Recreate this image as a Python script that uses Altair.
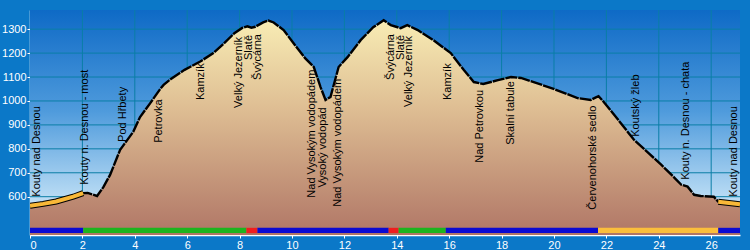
import altair as alt
import pandas as pd

# ---- data ----
profile_x = [0.0, 0.5, 1.0, 1.65, 2.03, 2.2, 2.56, 2.8, 3.06, 3.44, 3.94, 4.2, 4.59, 4.97, 5.1, 5.35,
             5.9, 6.5, 7.0, 7.4, 7.8, 8.1, 8.3, 8.45, 8.6, 8.9, 9.1, 9.3, 9.68, 10.06, 10.5, 10.83,
             11.09, 11.28, 11.47, 11.78, 12.12, 12.62, 13.1, 13.5, 13.77, 14.15, 14.4, 14.8, 15.4,
             16.06, 16.56, 16.94, 17.3, 17.86, 18.36, 18.74, 19.9, 20.9, 21.4, 21.6, 21.7, 21.9,
             22.45, 23.06, 23.6, 24.1, 24.6, 24.86, 25.1, 25.35, 25.6, 26.1, 26.27, 26.6, 27.1]
profile_elev = [562, 570, 580, 600, 615, 616, 603, 640, 692, 796, 871, 933, 991, 1050, 1067, 1090,
                1130, 1165, 1200, 1240, 1283, 1305, 1312, 1306, 1310, 1328, 1336, 1328, 1296, 1241, 1179, 1142,
                1058, 1004, 1017, 1142, 1183, 1254, 1308, 1337, 1317, 1304, 1317, 1296, 1254,
                1200, 1129, 1079, 1071, 1087, 1100, 1096, 1054, 1012, 1004, 1015, 1020, 996,
                921, 837, 783, 733, 679, 650, 642, 608, 603, 600, 579, 575, 568]

road_seg = [1, 1, 1, 1, 1, 2, 2, 2]
road_x = [0.0, 0.5, 1.0, 1.65, 2.03, 26.27, 26.6, 27.1]
road_elev = [562, 570, 580, 600, 615, 579, 575, 568]

bar_start = [0.0, 2.03, 8.26, 8.68, 13.69, 14.07, 15.87, 21.68, 26.27]
bar_end = [2.03, 8.26, 8.68, 13.69, 14.07, 15.87, 21.68, 26.27, 27.1]
bar_type = ["a", "b", "c", "a2", "c2", "b2", "a3", "d", "a4"]
bar_colors = ["#0a0ad2", "#1eb41e", "#f01e1e", "#0a0ad2", "#f01e1e", "#1eb41e", "#0a0ad2", "#fbbe3c", "#0a0ad2"]

labels = ["Kouty nad Desnou", "Kouty n. Desnou - most", "Pod Hřbety", "Petrovka", "Kamzík",
          "Velký Jezerník", "Slatě", "Švýcárna", "Nad Vysokým vodopádem", "Vysoký vodopád",
          "Nad Vysokým vodopádem", "Švýcárna", "Slatě", "Velký Jezerník", "Kamzík",
          "Nad Petrovkou", "Skalní tabule", "Červenohorské sedlo", "Koutský žleb",
          "Kouty n. Desnou - chata", "Kouty nad Desnou"]
label_x = [0.27, 2.10, 3.56, 4.93, 6.54, 7.99, 8.37, 8.72, 10.78, 11.2, 11.74, 13.77, 14.15, 14.46,
           15.95, 17.17, 18.36, 21.49, 23.14, 25.05, 26.88]
label_elev = [600, 650, 829, 825, 1004, 971, 1171, 1088, 596, 638, 558, 1088, 1171, 975,
              1004, 742, 817, 546, 850, 671, 600]

grid_y = [600, 700, 800, 900, 1000, 1100, 1200, 1300]
grid_x = [2, 4, 6, 8, 10, 12, 14, 16, 18, 20, 22, 24, 26]
x_ticks = [0, 2, 4, 6, 8, 10, 12, 14, 16, 18, 20, 22, 24, 26]

X_MIN, X_MAX = 0, 27.1
Y_MIN, Y_MAX = 440, 1380

# ---- tables ----
prof = pd.DataFrame({"km": profile_x, "elev": profile_elev, "base": Y_MIN})
road = pd.DataFrame({"km": road_x, "elev": road_elev, "seg": road_seg})
bars = pd.DataFrame({"km": bar_start, "end": bar_end, "type": bar_type,
                     "elev": 448, "hi": 470})
labs = pd.DataFrame({"name": labels, "km": label_x, "elev": label_elev})
sky = pd.DataFrame({"km": [X_MIN], "x1": [X_MAX], "elev": [Y_MIN], "y1": [Y_MAX]})
gy = pd.DataFrame({"elev": grid_y, "km": X_MIN, "x1": X_MAX})
gx = pd.DataFrame({"km": grid_x, "elev": Y_MIN, "y1": Y_MAX})

FONT = "Liberation Sans"
xs = alt.Scale(domain=[X_MIN, X_MAX], nice=False, zero=False)
ys = alt.Scale(domain=[Y_MIN, Y_MAX], nice=False, zero=False)
ax_x = alt.Axis(values=x_ticks, title=None, grid=False, domainColor="white", domainWidth=1.5,
                tickColor="white", labelColor="white", tickSize=3, labelPadding=1,
                labelFont=FONT, labelFontSize=11, format="d")
ax_y = alt.Axis(values=grid_y, title=None, grid=False, domainColor="white", domainWidth=1.5,
                tickColor="white", labelColor="white", tickSize=3, labelPadding=1,
                labelFont=FONT, labelFontSize=11, format="d")
X = alt.X("km:Q", scale=xs, axis=ax_x)
Y = alt.Y("elev:Q", scale=ys, axis=ax_y)

sky_layer = alt.Chart(sky).mark_rect(
    color={"gradient": "linear", "x1": 0, "y1": 0, "x2": 0, "y2": 1,
           "stops": [{"offset": 0, "color": "#0e6ac6"},
                     {"offset": 0.45, "color": "#4f9bdc"},
                     {"offset": 0.8, "color": "#b0d6f2"},
                     {"offset": 1, "color": "#eaf4fc"}]}
).encode(x=X, x2="x1:Q", y=Y, y2="y1:Q")

grid_h = alt.Chart(gy).mark_rule(color="#0a7ea6", strokeWidth=1).encode(x=X, x2="x1:Q", y=Y)
grid_v = alt.Chart(gx).mark_rule(color="#0a7ea6", strokeWidth=1).encode(x=X, y=Y, y2="y1:Q")

terrain = alt.Chart(prof).mark_area(
    clip=True,
    color={"gradient": "linear", "x1": 0, "y1": 0, "x2": 0, "y2": 1,
           "stops": [{"offset": 0, "color": "#f8ecb4"},
                     {"offset": 0.4, "color": "#dfbf94"},
                     {"offset": 1, "color": "#b07666"}]}
).encode(x=X, y=Y, y2="base:Q")

line = alt.Chart(prof).mark_line(color="black", strokeWidth=2.4, strokeDash=[12, 1], clip=True).encode(x=X, y=Y)

road_outline = alt.Chart(road).mark_line(color="black", strokeWidth=6, clip=True).encode(
    x=X, y=Y, detail="seg:N")
road_fill = alt.Chart(road).mark_line(color="#f8b838", strokeWidth=4, clip=True).encode(
    x=X, y=Y, detail="seg:N")

bar_layer = alt.Chart(bars).mark_rect(clip=True).encode(
    x=X, x2="end:Q", y=Y, y2="hi:Q",
    color=alt.Color("type:N", scale=alt.Scale(domain=bar_type, range=bar_colors), legend=None),
)

text_layer = alt.Chart(labs).mark_text(
    angle=270, align="left", baseline="middle", font=FONT, fontSize=11, color="black"
).encode(x=X, y=Y, text="name:N")

chart = alt.layer(
    sky_layer, grid_h, grid_v, terrain, line, road_outline, road_fill, bar_layer, text_layer
).properties(
    width=710, height=225,
    autosize=alt.AutoSizeParams(type="none"),
    padding={"left": 30, "top": 10, "right": 10, "bottom": 15},
    background="#0b78c8",
).configure_view(stroke=None)

chart.save("out.html", embed_options={"renderer": "svg", "actions": False})
